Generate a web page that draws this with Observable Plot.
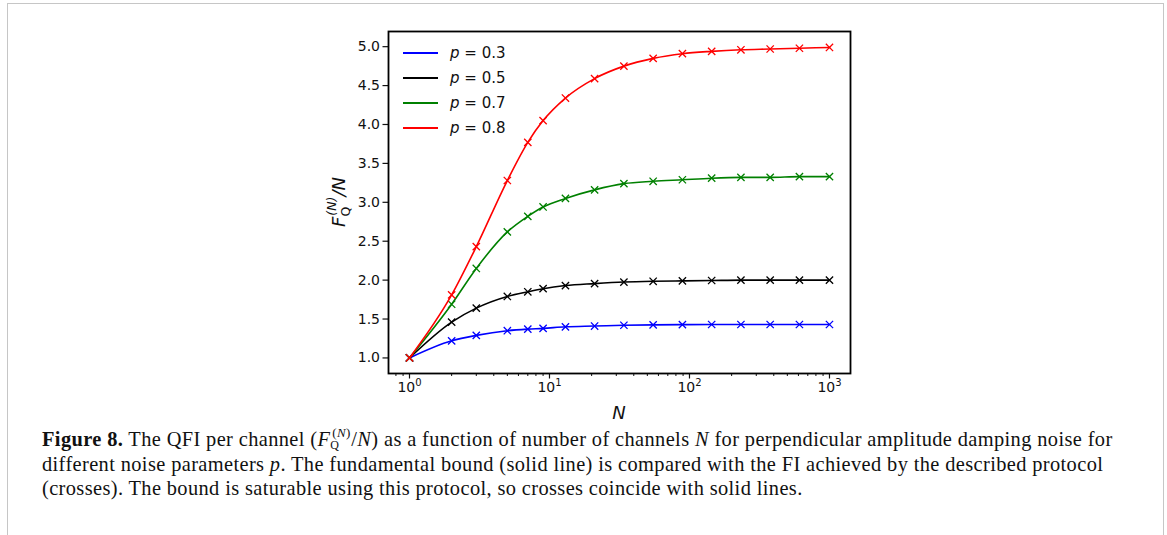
<!DOCTYPE html>
<html>
<head>
<meta charset="utf-8">
<script src="https://cdn.jsdelivr.net/npm/d3@7"></script>
<script src="https://cdn.jsdelivr.net/npm/@observablehq/plot@0.6"></script>
<style>
  html, body { margin: 0; padding: 0; background: #fff; }
  body { width: 1167px; height: 535px; position: relative; overflow: hidden; }
  #frame { position: absolute; left: 7px; top: 3px; width: 1155px; height: 600px;
           border: 1.5px solid #c6c6c6; border-bottom: none; }
  #chart { position: absolute; left: 0; top: 0; }
  #legend { position: absolute; left: 403px; top: 41px; font-family: "DejaVu Sans"; font-size: 15px; color: #111; }
  #legend .row { height: 24.8px; display: flex; align-items: center; white-space: nowrap; }
  #legend .sw { width: 35px; height: 2px; margin-right: 12px; }
  #caption { position: absolute; left: 42px; top: 427px; font-family: "Liberation Serif"; font-size: 20.4px;
             letter-spacing: 0.38px; line-height: 24.6px; color: #111; white-space: nowrap; }
  .ss { position: relative; display: inline-block; width: 21px; height: 0; font-size: 12px; line-height: 1; }
  .ss .sup { position: absolute; left: 2px; top: -20px; font-size: 13px; }
  .ss .sub { position: absolute; left: 0px; top: -7px; }
</style>
</head>
<body>
<div id="frame"></div>
<div id="chart"></div>
<div id="legend"></div>
<div id="caption"><b>Figure 8.</b> The QFI per channel (<i>F</i><span class="ss"><span class="sup">(<i>N</i>)</span><span class="sub">Q</span></span>/<i>N</i>) as a function of number of channels <i>N</i> for perpendicular amplitude damping noise for<br>different noise parameters <i>p</i>. The fundamental bound (solid line) is compared with the FI achieved by the described protocol<br>(crosses). The bound is saturable using this protocol, so crosses coincide with solid lines.</div>
<script>
// ---- data ----
const N = [1, 2, 3, 5, 7, 9, 13, 21, 34, 55, 89, 144, 233, 377, 610, 1000];
const q03 = [1.00, 1.22, 1.29, 1.35, 1.37, 1.38, 1.40, 1.41, 1.42, 1.425, 1.428, 1.43, 1.43, 1.43, 1.43, 1.43];
const q05 = [1.00, 1.46, 1.64, 1.79, 1.85, 1.89, 1.93, 1.955, 1.975, 1.985, 1.99, 1.995, 2.0, 2.0, 2.0, 2.0];
const q07 = [1.00, 1.69, 2.15, 2.62, 2.82, 2.94, 3.05, 3.16, 3.24, 3.27, 3.29, 3.31, 3.32, 3.32, 3.33, 3.33];
const q08 = [1.00, 1.81, 2.43, 3.28, 3.77, 4.05, 4.34, 4.59, 4.75, 4.85, 4.91, 4.94, 4.96, 4.97, 4.98, 4.99];
const seriesLabels = ["0.3", "0.5", "0.7", "0.8"];
const seriesColors = ["#0000ff", "#000000", "#008000", "#ff0000"];
const xTicks = [1, 10, 100, 1000];
const xTickBase = "10";
const xTickExps = ["0", "1", "2", "3"];
const xMinorTicks = [0.8, 0.9, 2, 3, 4, 5, 6, 7, 8, 9, 20, 30, 40, 50, 60, 70, 80, 90, 200, 300, 400, 500, 600, 700, 800, 900];
const yTicks = [1.0, 1.5, 2.0, 2.5, 3.0, 3.5, 4.0, 4.5, 5.0];

const values = [q03, q05, q07, q08];
const marks = [];
values.forEach((vals, i) => {
  const rows = N.map((n, j) => ({N: n, v: vals[j]}));
  marks.push(Plot.line(rows, {x: "N", y: "v", stroke: seriesColors[i], strokeWidth: 1.6, curve: "monotone-x"}));
  marks.push(Plot.dot(rows, {x: "N", y: "v", symbol: "times", r: 3.4, stroke: seriesColors[i], strokeWidth: 1.3}));
});

const chart = Plot.plot({
  width: 1167, height: 430,
  marginLeft: 388, marginRight: 317, marginTop: 31, marginBottom: 57,
  style: {fontFamily: "DejaVu Sans", fontSize: "14px", color: "#111", background: "transparent", overflow: "visible"},
  x: {type: "log", domain: [0.708, 1413]},
  y: {domain: [0.8, 5.195]},
  marks: [
    Plot.axisX({ticks: xMinorTicks, tickSize: 3, tickFormat: () => "", label: null, strokeWidth: 1}),
    Plot.axisX({ticks: xTicks, tickSize: 5.5, tickPadding: 3, tickFormat: d => xTickBase + "^" + xTickExps[xTicks.indexOf(d)], label: null, strokeWidth: 1.2, fontSize: 14}),
    Plot.axisY({ticks: yTicks, tickSize: 5.5, tickPadding: 3, tickFormat: d3.format(".1f"), label: null, strokeWidth: 1.2, fontSize: 14}),
    ...marks,
    Plot.frame({stroke: "#000", strokeWidth: 1.8})
  ]
});
document.getElementById("chart").append(chart);

const svg = d3.select(chart);
// turn "10^k" tick labels into 10 with a raised exponent
svg.selectAll("text").each(function () {
  const t = this.textContent;
  if (/^10\^\d$/.test(t)) {
    const [b, e] = t.split("^");
    const el = d3.select(this);
    el.text(null);
    el.append("tspan").text(b);
    el.append("tspan").attr("font-size", 10).attr("dy", "-0.55em").text(e);
  }
});

// axis titles
svg.append("text")
  .attr("x", 619).attr("y", 419)
  .attr("text-anchor", "middle")
  .attr("font-family", "DejaVu Sans").attr("font-size", 18).attr("font-style", "italic").attr("fill", "#111")
  .text("N");
const yl = svg.append("text")
  .attr("transform", "translate(345,202) rotate(-90)")
  .attr("text-anchor", "middle")
  .attr("font-family", "DejaVu Sans").attr("font-size", 18).attr("fill", "#111");
yl.append("tspan").attr("font-style", "italic").text("F");
yl.append("tspan").attr("font-size", 12.5).attr("dy", 5).text("Q");
yl.append("tspan").attr("font-size", 12.5).attr("font-style", "italic").attr("dx", -9).attr("dy", -14).text("(N)");
yl.append("tspan").attr("font-style", "italic").attr("dy", 9).text("/N");

// legend
const lg = d3.select("#legend");
seriesLabels.forEach((lab, i) => {
  const r = lg.append("div").attr("class", "row");
  r.append("div").attr("class", "sw").style("background", seriesColors[i]);
  r.append("span").html(`<i>p</i> = ${lab}`);
});
</script>
</body>
</html>
